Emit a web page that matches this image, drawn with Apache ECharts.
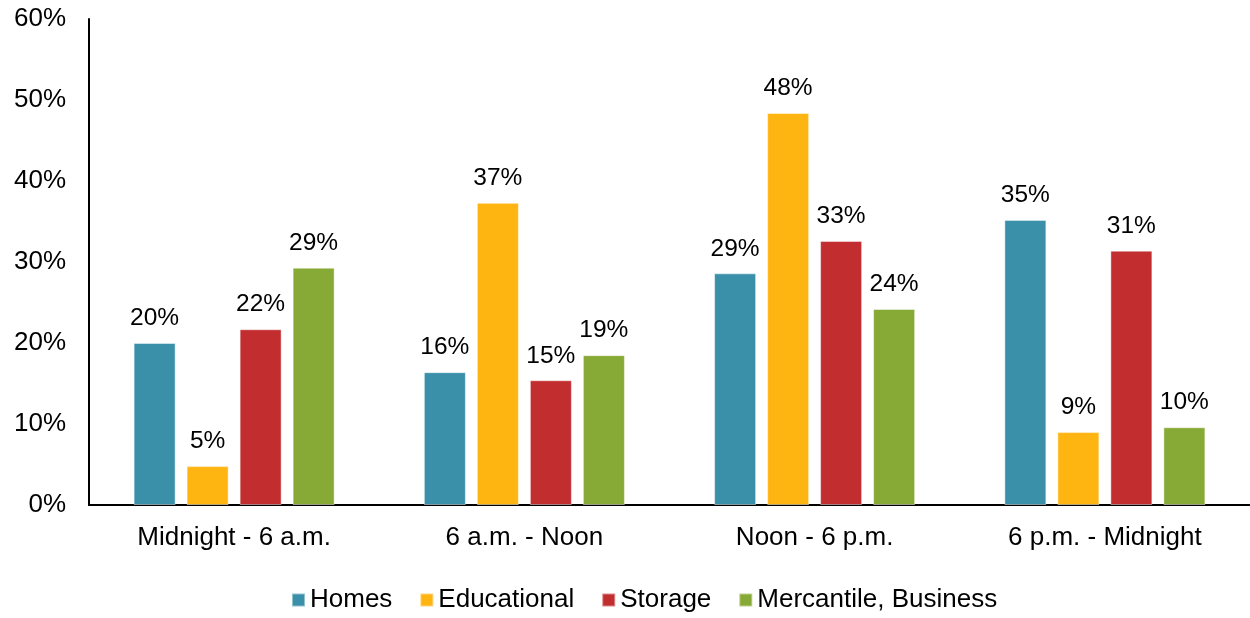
<!DOCTYPE html>
<html>
<head>
<meta charset="utf-8">
<script src="https://cdn.jsdelivr.net/npm/echarts@6/dist/echarts.min.js"></script>
<style>
  html, body { margin: 0; padding: 0; background: #fff; }
  #chart { width: 1250px; height: 618px; }
</style>
</head>
<body>
<div id="chart"></div>
<script>
// Share of fires by time of day, per property type (percent)
const categories = ['Midnight - 6 a.m.', '6 a.m. - Noon', 'Noon - 6 p.m.', '6 p.m. - Midnight'];
const homes       = [20.0, 16.4, 28.6, 35.2];
const educational = [4.8, 37.3, 48.4, 9.0];
const storage     = [21.7, 15.4, 32.6, 31.4];
const mercantile  = [29.3, 18.5, 24.2, 9.6];
const seriesNames = ['Homes', 'Educational', 'Storage', 'Mercantile, Business'];
const seriesColors = ['#3A90A8', '#FFB511', '#C22D30', '#87A935'];

const textFont = 'Liberation Sans, Arial, sans-serif';

const chart = echarts.init(document.getElementById('chart'));

function makeSeries(name, data, color) {
  return {
    name: name,
    type: 'bar',
    data: data,
    barWidth: 42,
    barGap: '26.2%',
    itemStyle: { color: color, borderColor: 'rgba(255,255,255,0.45)', borderWidth: 1 },
    label: {
      show: true,
      position: 'top',
      distance: 12,
      color: '#000',
      fontFamily: textFont,
      fontSize: 24.5,
      formatter: p => Math.round(p.value) + '%'
    }
  };
}

chart.setOption({
  animation: false,
  backgroundColor: '#fff',
  grid: { left: 89, right: 0, top: 19, bottom: 113, containLabel: false },
  legend: {
    left: 286,
    top: 582,
    itemWidth: 13,
    itemHeight: 13,
    itemGap: 27,
    icon: 'rect',
    textStyle: { fontFamily: textFont, fontSize: 26, color: '#000' },
    data: seriesNames
  },
  xAxis: {
    type: 'category',
    data: categories,
    axisLine: { show: true, lineStyle: { color: '#000', width: 2 } },
    axisTick: { show: false },
    axisLabel: { margin: 19.5, color: '#000', fontFamily: textFont, fontSize: 26 }
  },
  yAxis: {
    type: 'value',
    min: 0,
    max: 60,
    interval: 10,
    splitLine: { show: false },
    axisLine: { show: true, lineStyle: { color: '#000', width: 2 } },
    axisTick: { show: false },
    axisLabel: { margin: 23, color: '#000', fontFamily: textFont, fontSize: 26, formatter: '{value}%' }
  },
  series: [
    makeSeries(seriesNames[0], homes, seriesColors[0]),
    makeSeries(seriesNames[1], educational, seriesColors[1]),
    makeSeries(seriesNames[2], storage, seriesColors[2]),
    makeSeries(seriesNames[3], mercantile, seriesColors[3])
  ]
});
</script>
</body>
</html>
